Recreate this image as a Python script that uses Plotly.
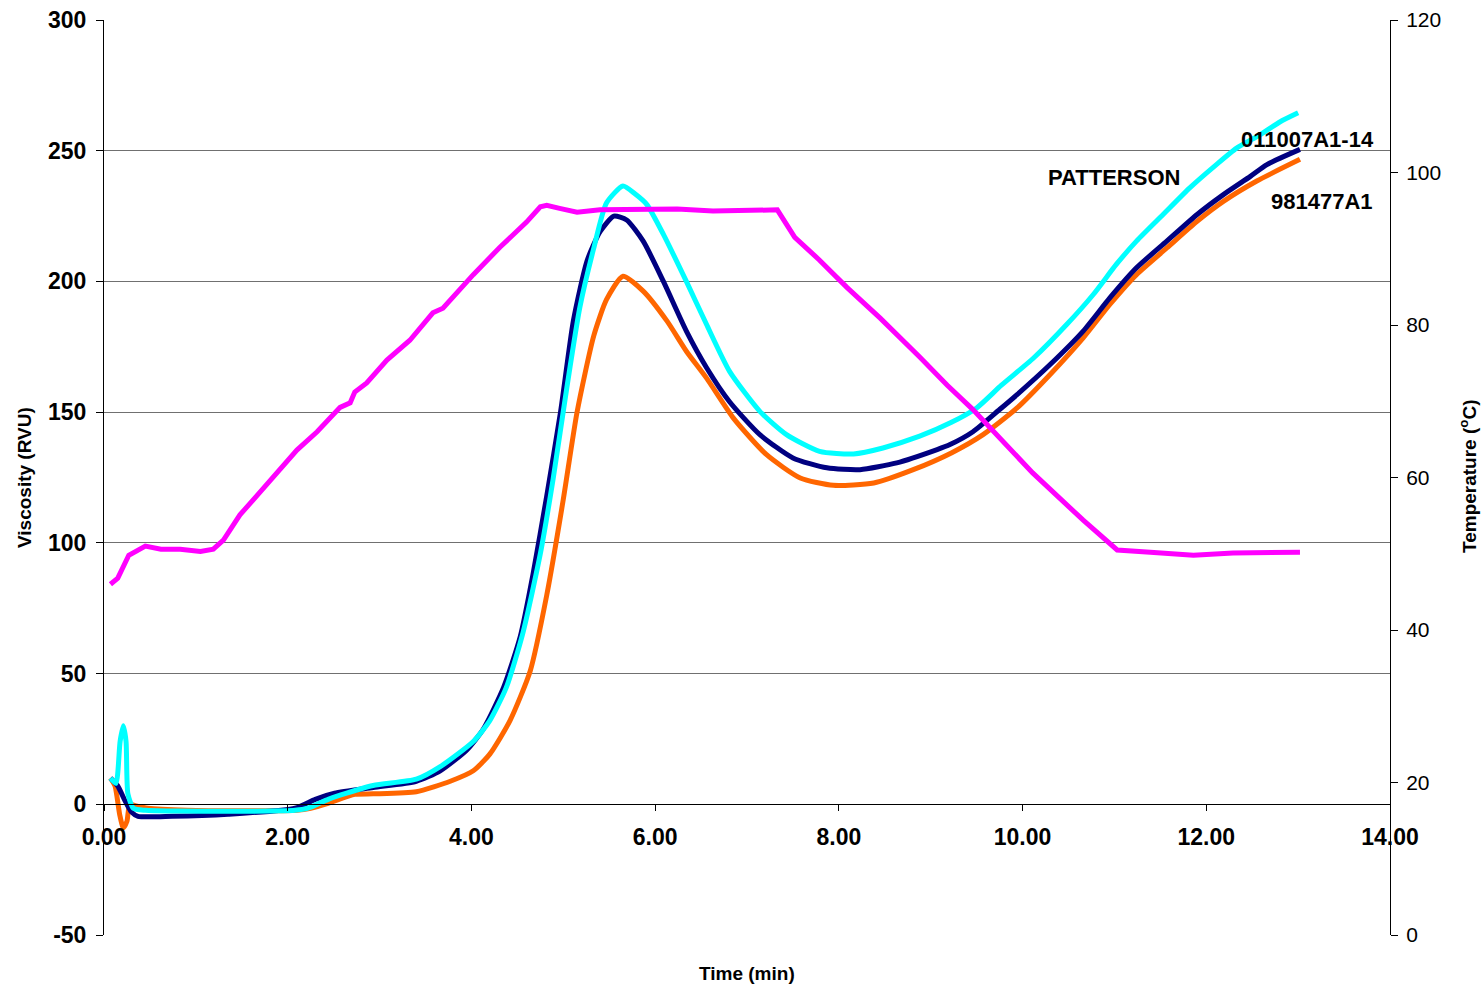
import plotly.graph_objects as go

# Pasting curve readings: time (min) vs viscosity (RVU) and temperature (°C)
t_patterson = [0.07, 0.13, 0.175, 0.21, 0.24, 0.26, 0.32, 0.45, 0.8, 1.35, 2.08, 2.22, 2.44, 2.57,
               2.93, 3.40, 3.66, 4.02, 4.20, 4.38, 4.56, 4.75, 4.89, 5.04, 5.18, 5.33, 5.47, 5.65,
               5.78, 5.91, 6.09, 6.34, 6.56, 6.81, 7.14, 7.43, 7.79, 8.16, 8.48, 8.88, 9.22, 9.50,
               9.77, 10.12, 10.48, 10.77, 11.02, 11.24, 11.53, 11.82, 12.11, 12.33, 12.58, 12.80, 13.00]
v_patterson = [10, 8, 24, 30, 24, 4, -1.5, -2.3, -2.6, -2.7, -2.3, -1.5, 1.9, 3.5,
               7.2, 9.6, 14.4, 24, 32, 44.7, 65.5, 95.8, 124.6, 159.7, 190, 212.5, 230, 236.5,
               233.5, 229.4, 218, 200, 183.5, 165.6, 150.3, 141.4, 135, 134, 136.3, 140.8, 146, 151.6,
               160.3, 170.7, 183.5, 195, 206.5, 215.4, 225.6, 235.8, 244.7, 251, 256, 261, 264.5]

t_011007 = [0.07, 0.15, 0.22, 0.30, 0.37, 0.74, 1.35, 2.08, 2.30, 2.51, 2.93, 3.40, 3.66, 3.95,
            4.13, 4.35, 4.53, 4.67, 4.82, 4.97, 5.11, 5.26, 5.40, 5.55, 5.69, 5.87, 6.09, 6.34,
            6.56, 6.81, 7.14, 7.50, 7.87, 8.23, 8.63, 9.07, 9.21, 9.46, 9.75, 9.94, 10.30, 10.66,
            10.95, 11.24, 11.57, 11.90, 12.19, 12.48, 12.66, 13.02]
v_011007 = [10, 7, 2, -3, -4.6, -4.6, -3.8, -1.5, 1.9, 4.2, 6.4, 8.8, 12.8, 20.8,
            28.8, 44.7, 63.9, 87.9, 118, 150, 185, 208, 219, 225, 223.5, 215.4, 200, 181,
            167, 154, 141.4, 132.5, 128.7, 128, 130.6, 135.7, 137.6, 142.5, 151, 156.7, 168.2, 181,
            193.7, 205.2, 215.4, 225.6, 233.3, 240.2, 244.7, 250.5]

t_981477 = [0.07, 0.12, 0.17, 0.21, 0.25, 0.28, 0.34, 0.48, 0.9, 1.5, 2.1, 2.25, 2.44, 2.73,
            2.93, 3.40, 3.77, 4.02, 4.20, 4.42, 4.64, 4.82, 5.00, 5.15, 5.33, 5.47, 5.65, 5.87,
            6.13, 6.34, 6.56, 6.85, 7.21, 7.58, 7.94, 8.38, 8.81, 9.23, 9.57, 9.94, 10.30, 10.66,
            10.95, 11.24, 11.57, 11.90, 12.19, 12.55, 13.02]
v_981477 = [10, 7, -3.8, -9, -6.5, 0, -0.5, -1.5, -2.3, -2.5, -2.3, -1.5, 0.4, 3.8,
            4.0, 4.8, 8.8, 12.8, 19.2, 32, 51, 80, 116.6, 150, 179, 193, 202, 196.3,
            184.8, 173.3, 163, 147.8, 133.8, 124.8, 122, 122.9, 128, 134.5, 141.4, 151.6, 164.4, 178.4,
            191.2, 202.6, 212.8, 223, 230.7, 238.4, 246.7]

t_temp = [0.07, 0.15, 0.27, 0.45, 0.62, 0.83, 1.05, 1.19, 1.30, 1.48, 1.67, 1.84, 2.10, 2.32,
          2.57, 2.68, 2.73, 2.86, 3.08, 3.33, 3.44, 3.58, 3.69, 3.91, 4.02, 4.31, 4.60, 4.75,
          4.82, 4.96, 5.15, 5.40, 5.76, 6.24, 6.63, 7.07, 7.33, 7.52, 7.79, 8.09, 8.45, 8.88,
          9.18, 9.46, 9.75, 10.11, 10.66, 11.03, 11.39, 11.86, 12.29, 13.02]
temp_c = [46.0, 46.8, 49.8, 51.0, 50.6, 50.6, 50.3, 50.6, 51.8, 55.1, 57.7, 60.1, 63.6, 66.0,
          69.2, 69.8, 71.2, 72.4, 75.4, 78.0, 79.7, 81.6, 82.2, 85.2, 86.6, 90.2, 93.5, 95.5,
          95.7, 95.3, 94.8, 95.1, 95.1, 95.2, 94.95, 95.1, 95.1, 91.5, 88.5, 84.9, 80.9, 75.8,
          72.1, 68.9, 65.3, 60.6, 54.4, 50.5, 50.2, 49.8, 50.1, 50.2]

x_ticks = [0, 2, 4, 6, 8, 10, 12, 14]
y_ticks = [-50, 0, 50, 100, 150, 200, 250, 300]
y2_ticks = [0, 20, 40, 60, 80, 100, 120]

FONT = "Liberation Sans, Arial, sans-serif"
LW = 5

fig = go.Figure()
fig.add_trace(go.Scatter(x=t_981477, y=v_981477, mode="lines", name="981477A1",
                         line=dict(color="#FF6600", width=LW, shape="spline", smoothing=0.6)))
fig.add_trace(go.Scatter(x=t_011007, y=v_011007, mode="lines", name="011007A1-14",
                         line=dict(color="#000080", width=LW, shape="spline", smoothing=0.6)))
fig.add_trace(go.Scatter(x=t_patterson, y=v_patterson, mode="lines", name="PATTERSON",
                         line=dict(color="#00FFFF", width=LW, shape="spline", smoothing=0.6)))
fig.add_trace(go.Scatter(x=t_temp, y=temp_c, mode="lines", name="Temperature", yaxis="y2",
                         line=dict(color="#FF00FF", width=LW)))

fig.update_layout(
    width=1482, height=987,
    margin=dict(l=104, r=92, t=20, b=52),
    paper_bgcolor="white", plot_bgcolor="white",
    showlegend=False,
    font=dict(family=FONT, color="black"),
    xaxis=dict(
        range=[0, 14], tickvals=x_ticks,
        ticktext=["<b>%.2f</b>" % v for v in x_ticks],
        tickfont=dict(size=23, family=FONT),
        anchor="free", position=50 / 350,
        showline=True, linecolor="black", linewidth=1,
        ticks="outside", ticklen=6, tickcolor="black",
        showgrid=False, zeroline=False, ticklabelstandoff=6, automargin=False,
    ),
    yaxis=dict(
        range=[-50, 300], tickvals=y_ticks,
        ticktext=["<b>%d</b>" % v for v in y_ticks],
        tickfont=dict(size=23, family=FONT),
        showline=True, linecolor="black", linewidth=1,
        ticks="outside", ticklen=7, tickcolor="black",
        showgrid=True, gridcolor="#707070", gridwidth=1,
        zeroline=False, ticklabelstandoff=5, automargin=False,
    ),
    yaxis2=dict(
        range=[0, 120], tickvals=y2_ticks,
        tickfont=dict(size=21, family=FONT),
        overlaying="y", side="right",
        showline=True, linecolor="black", linewidth=1,
        ticks="outside", ticklen=7, tickcolor="black",
        showgrid=False, zeroline=False, ticklabelstandoff=4, automargin=False,
    ),
)

annos = [
    dict(text="<b>Viscosity (RVU)</b>", x=24, y=478, angle=-90, size=19),
    dict(text="<b>Time (min)</b>", x=747, y=973, angle=0, size=19),
    dict(text="<b>Temperature (<sup>o</sup>C)</b>", x=1468, y=477, angle=-90, size=19),
]
for a in annos:
    fig.add_annotation(text=a["text"], xref="paper", yref="paper",
                       x=(a["x"] - 104) / 1286, y=(935 - a["y"]) / 915,
                       textangle=a["angle"], showarrow=False,
                       xanchor="center", yanchor="middle",
                       font=dict(size=a["size"], family=FONT, color="black"))

# Series labels placed beside the curve ends
labels = [("011007A1-14", 13.10, 254.4), ("PATTERSON", 10.995, 239.9), ("981477A1", 13.26, 230.6)]
for txt, lx, ly in labels:
    fig.add_annotation(text="<b>%s</b>" % txt, x=lx, y=ly, xref="x", yref="y",
                       showarrow=False, xanchor="center", yanchor="middle",
                       font=dict(size=22, family=FONT, color="black"))

fig.write_html("out.html")
